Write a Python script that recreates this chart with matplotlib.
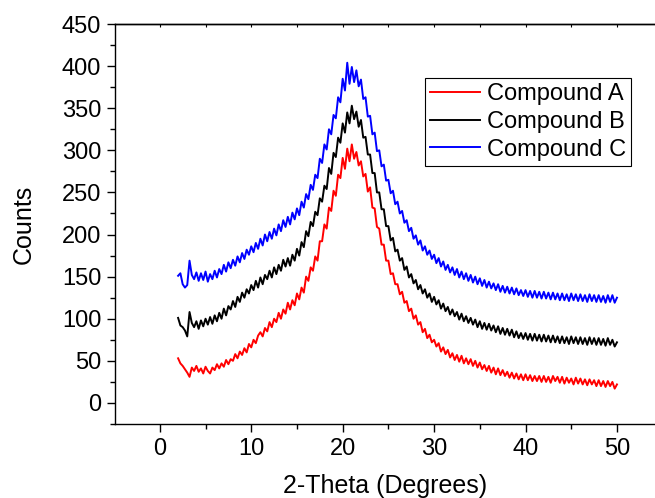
import numpy as np
import matplotlib
matplotlib.use("Agg")
import matplotlib.pyplot as plt
from matplotlib.ticker import MultipleLocator

plt.rcParams['font.family'] = ['Liberation Sans', 'DejaVu Sans']

# 2-theta grid, 0.25 degree steps from 2 to 50
two_theta = np.arange(2.0, 50.01, 0.25)

# counts, one row per 2 degrees
counts_a = [
    53, 47, 44, 40, 36, 31, 42, 38,
    44, 37, 41, 35, 43, 38, 35, 42,
    39, 46, 41, 47, 43, 51, 46, 52,
    50, 58, 53, 61, 57, 65, 60, 70,
    66, 75, 71, 80, 84, 79, 89, 85,
    96, 90, 100, 96, 107, 100, 111, 106,
    119, 111, 122, 116, 130, 123, 137, 131,
    150, 145, 161, 157, 174, 169, 192, 192,
    212, 207, 232, 228, 252, 246, 271, 267,
    291, 278, 302, 287, 307, 290, 298, 282,
    287, 269, 272, 251, 256, 232, 231, 209,
    207, 188, 188, 169, 169, 153, 154, 141,
    141, 129, 132, 119, 121, 109, 112, 100,
    104, 93, 96, 84, 88, 77, 81, 72,
    75, 67, 71, 61, 66, 58, 63, 54,
    59, 51, 57, 49, 56, 47, 53, 46,
    52, 44, 50, 42, 48, 40, 45, 38,
    44, 36, 42, 34, 41, 33, 39, 32,
    37, 30, 36, 29, 35, 28, 34, 27,
    34, 27, 33, 26, 32, 26, 32, 25,
    32, 25, 31, 24, 32, 26, 31, 24,
    31, 23, 30, 24, 29, 22, 30, 23,
    29, 22, 28, 21, 28, 22, 27, 20,
    27, 20, 26, 19, 26, 20, 25, 17,
    22,
]

counts_b = [
    101, 92, 90, 86, 79, 108, 95, 90,
    97, 88, 98, 91, 100, 93, 102, 94,
    104, 97, 107, 100, 112, 104, 115, 111,
    121, 114, 126, 120, 131, 125, 135, 130,
    140, 134, 145, 137, 149, 141, 152, 147,
    157, 149, 161, 153, 164, 157, 170, 162,
    172, 163, 176, 169, 183, 175, 191, 185,
    204, 198, 215, 210, 227, 223, 243, 239,
    258, 254, 279, 272, 297, 292, 315, 309,
    332, 321, 345, 332, 353, 337, 346, 328,
    336, 315, 316, 295, 295, 273, 273, 250,
    250, 230, 230, 210, 210, 193, 196, 180,
    182, 169, 172, 158, 162, 149, 153, 142,
    146, 135, 140, 130, 135, 125, 130, 120,
    126, 117, 122, 112, 118, 109, 114, 105,
    111, 103, 108, 99, 106, 97, 103, 95,
    101, 93, 99, 90, 97, 88, 95, 87,
    94, 86, 92, 84, 91, 82, 89, 81,
    88, 80, 87, 78, 85, 77, 83, 76,
    83, 75, 82, 74, 82, 74, 81, 73,
    81, 73, 80, 72, 80, 72, 79, 71,
    79, 71, 78, 70, 79, 71, 78, 70,
    78, 70, 77, 69, 78, 70, 77, 69,
    77, 69, 76, 68, 77, 69, 75, 67,
    72,
]

counts_c = [
    151, 154, 141, 137, 140, 169, 152, 147,
    155, 145, 154, 146, 156, 144, 153, 147,
    157, 149, 159, 153, 164, 156, 167, 160,
    170, 163, 174, 167, 178, 171, 182, 176,
    186, 179, 190, 183, 195, 187, 200, 192,
    203, 195, 207, 199, 212, 204, 217, 209,
    221, 212, 226, 218, 231, 223, 239, 232,
    248, 242, 259, 253, 271, 267, 290, 285,
    307, 301, 325, 319, 342, 338, 363, 357,
    385, 371, 404, 379, 399, 381, 395, 376,
    384, 361, 363, 340, 341, 319, 321, 299,
    300, 281, 283, 264, 265, 249, 252, 236,
    239, 225, 228, 214, 217, 204, 208, 195,
    199, 188, 193, 181, 186, 176, 181, 171,
    176, 166, 172, 162, 168, 158, 164, 155,
    161, 152, 159, 149, 156, 147, 154, 145,
    152, 143, 150, 141, 148, 139, 146, 137,
    144, 136, 142, 134, 141, 132, 139, 131,
    138, 130, 137, 129, 136, 128, 134, 127,
    134, 126, 133, 125, 133, 125, 132, 124,
    132, 124, 131, 123, 131, 123, 130, 122,
    130, 122, 129, 121, 130, 122, 129, 121,
    129, 121, 128, 120, 129, 121, 128, 120,
    128, 120, 127, 119, 128, 120, 128, 119,
    125,
]

labels = ["Compound A", "Compound B", "Compound C"]
colors = ["#ff0000", "#000000", "#0000ff"]

fig = plt.figure(figsize=(6.55, 4.98), dpi=100)
ax = fig.add_axes([0.1756, 0.1486, 0.8244, 0.8032])

for ys, lab, col in zip([counts_a, counts_b, counts_c], labels, colors):
    ax.plot(two_theta, ys, color=col, lw=1.4, label=lab)

ax.set_xlim(-4.9, 54.16)
ax.set_ylim(-25, 450)

ax.xaxis.set_major_locator(MultipleLocator(10))
ax.xaxis.set_minor_locator(MultipleLocator(5))
ax.yaxis.set_major_locator(MultipleLocator(50))
ax.yaxis.set_minor_locator(MultipleLocator(25))
ax.tick_params(which='major', direction='out', length=6, width=1.0,
               labelsize=17, pad=4)
ax.tick_params(which='minor', direction='out', length=3.5, width=1.0)

for side in ['left', 'bottom', 'top']:
    ax.spines[side].set_linewidth(1.0)
ax.spines['right'].set_visible(False)

# small inward ticks along the top frame
top = ax.secondary_xaxis('top')
top.set_xticks(np.arange(0, 55, 5))
top.tick_params(direction='in', length=2, width=0.8, labeltop=False)
top.spines['top'].set_linewidth(1.0)

ax.set_xlabel("2-Theta (Degrees)", fontsize=18, labelpad=10)
ax.set_ylabel("Counts", fontsize=18, labelpad=19)

leg = ax.legend(loc='upper left', bbox_to_anchor=(0.574, 0.865), borderaxespad=0,
                fontsize=17, fancybox=False, edgecolor='black', framealpha=1,
                handlelength=2.1, handletextpad=0.3, labelspacing=0.24,
                borderpad=0.22)
leg.get_frame().set_linewidth(0.8)

fig.savefig("out.png", dpi=100)
